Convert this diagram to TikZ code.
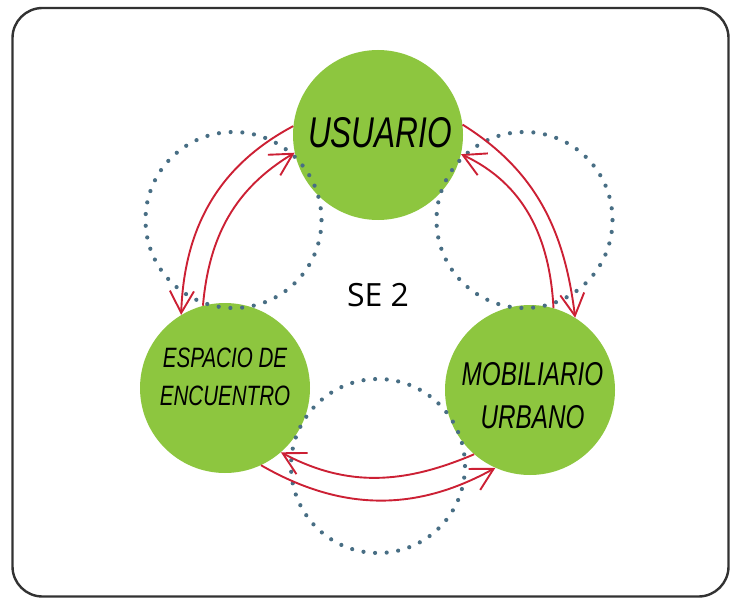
\documentclass[tikz,border=0pt]{standalone}
\usepackage{fontspec}
\usetikzlibrary{arrows.meta}
\newfontfamily\handfont[FakeStretch=0.735]{Liberation Sans}
\newfontfamily\labelfont{Open Sans}
\definecolor{ballgreen}{RGB}{141,198,63}
\definecolor{arrowred}{RGB}{204,32,52}
\definecolor{dotblue}{RGB}{72,110,132}
\definecolor{framegray}{RGB}{50,50,50}
\tikzset{
  ball/.style={circle,fill=ballgreen,draw=none,minimum size=170pt,inner sep=0pt},
  dotring/.style={draw=dotblue,line width=4.2pt,line cap=round,dash pattern=on 0pt off #1},
  relarrow/.style={draw=arrowred,line width=1.9pt,-{Straight Barb[length=22pt,width=24pt,line width=1.9pt]}},
  handtext/.style={font=\handfont\itshape,text=black,align=center,inner sep=0pt},
}
\begin{document}
\begin{tikzpicture}[x=1pt,y=1pt]
\useasboundingbox (0,0) rectangle (730,598);
\draw[framegray,line width=2.4pt,rounded corners=30pt] (12.5,1.5) rectangle (728.5,590);

% green circles
\node[ball] (U) at (378,463) {};
\node[ball] (E) at (225,210) {};
\node[ball] (M) at (530,208) {};

% dotted rings
\draw[dotring=11.76pt] (233.5,378) circle[radius=88];
\draw[dotring=11.76pt] (524.5,378) circle[radius=88];
\draw[dotring=11.63pt] (378,132) circle[radius=87];

% labels
\node[handtext,font=\handfont\itshape\fontsize{43}{43}\selectfont] (tU) at (380,465.5) {USUARIO};
\node[handtext,font=\handfont\itshape\fontsize{28}{38}\selectfont] (tE) at (225,221.5) {ESPACIO DE\\ENCUENTRO};
\node[handtext,font=\handfont\itshape\fontsize{33}{43}\selectfont] (tM) at (532.5,202) {MOBILIARIO\\URBANO};
\node[font=\labelfont\fontsize{32}{32}\selectfont,inner sep=0pt] (se) at (378,303) {SE 2};

% arrows
\draw[relarrow] (U.174) to[out=208,in=88] (E.121);
\draw[relarrow] (E.105) to[out=85,in=211] (U.192);
\draw[relarrow] (U.7) to[out=-32,in=97] (M.58);
\draw[relarrow] (M.74) to[out=93,in=-25] (U.-13);
\draw[relarrow] (M.-131) to[out=203,in=-28] (E.-49);
\draw[relarrow] (E.-65) to[out=-30,in=209] (M.-114);
\end{tikzpicture}
\end{document}
